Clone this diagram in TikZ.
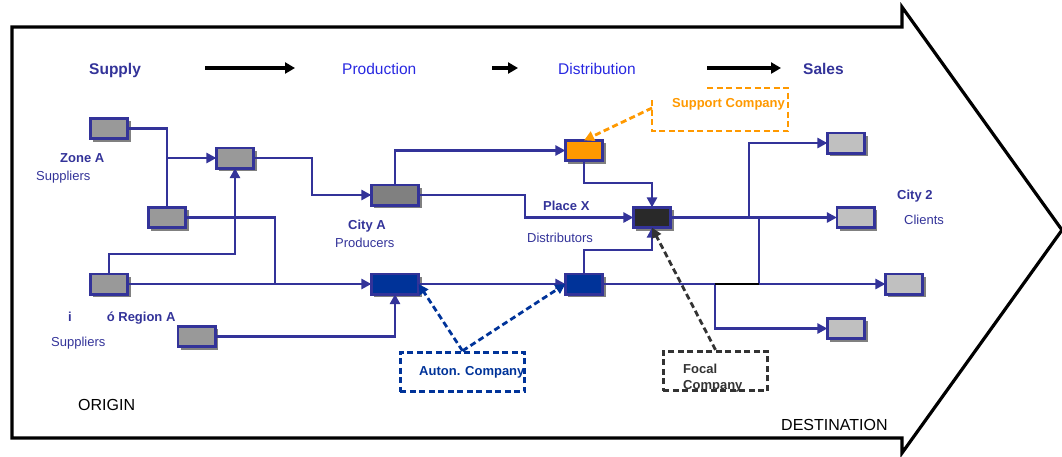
\documentclass[tikz,border=0pt]{standalone}
\usepackage{fontspec}
\setmainfont{Liberation Sans}
\usetikzlibrary{arrows.meta,shadows}

\definecolor{navy}{RGB}{51,51,153}
\definecolor{hdrblue}{RGB}{40,40,225}
\definecolor{boxgray}{RGB}{153,153,153}
\definecolor{prodgray}{RGB}{128,128,128}
\definecolor{clientgray}{RGB}{192,192,192}
\definecolor{deepblue}{RGB}{0,51,153}
\definecolor{supporange}{RGB}{255,153,0}
\definecolor{focalfill}{RGB}{41,41,41}
\definecolor{focaldash}{RGB}{51,51,51}
\definecolor{shadowgray}{RGB}{128,128,128}

\begin{document}
\begin{tikzpicture}[x=1pt,y=-1pt,
  unit/.style={draw=navy, line width=2.8pt, inner sep=0pt, outer sep=0pt,
    minimum width=37.2pt, minimum height=20.2pt,
    drop shadow={shadow xshift=3pt, shadow yshift=-3pt, fill=shadowgray, opacity=1}},
  wideunit/.style={unit, minimum width=47.2pt},
  conn/.style={draw=navy, line width=2.8pt, -{Triangle[length=10pt,width=10pt]}},
  link/.style={draw=navy, line width=2.8pt},
  harrow/.style={draw=black, line width=3.2pt, -{Triangle[length=10pt,width=11pt]}},
  dashline/.style={line width=2.8pt, dash pattern=on 6pt off 3.5pt},
  dtip/.style={-{Triangle[length=10pt,width=10pt]}},
  lbl/.style={anchor=base west, inner sep=0pt, text=navy, font=\fontsize{13}{16}\selectfont},
  lblb/.style={lbl, font=\fontsize{13}{16}\selectfont\bfseries},
  hdr/.style={anchor=base west, inner sep=0pt, font=\fontsize{15.5}{18}\selectfont},
  plain/.style={anchor=base west, inner sep=0pt, text=black, font=\fontsize{16}{18}\selectfont}
]
\useasboundingbox (0,0) rectangle (1062,456);

% outline arrow: origin to destination
\draw[line width=3.2pt, line join=miter] (12,27) -- (902,27) -- (902,7) -- (1062,230)
  -- (902,453) -- (902,438) -- (12,438) -- cycle;

% stage headings
\node[hdr, text=navy, font=\fontsize{15.5}{18}\selectfont\bfseries] (hsup) at (89,74) {Supply};
\node[hdr, text=hdrblue] (hprod) at (342,74) {Production};
\node[hdr, text=hdrblue] (hdist) at (558,74) {Distribution};
\node[hdr, text=navy, font=\fontsize{15.5}{18}\selectfont\bfseries] (hsal) at (803,74) {Sales};
\coordinate (a1s) at (205,68); \coordinate (a1e) at (295,68);
\coordinate (a2s) at (492,68); \coordinate (a2e) at (518,68);
\coordinate (a3s) at (707,68); \coordinate (a3e) at (781,68);
\draw[harrow] (a1s) -- (a1e);
\draw[harrow] (a2s) -- (a2e);
\draw[harrow] (a3s) -- (a3e);

% suppliers
\node[unit, fill=boxgray] (b1) at (109,128.5) {};
\node[unit, fill=boxgray] (b2) at (167,217.5) {};
\node[unit, fill=boxgray] (b3) at (235,158) {};
\node[unit, fill=boxgray] (b4) at (109,284) {};
\node[unit, fill=boxgray] (b5) at (196.5,336.5) {};
% producers
\node[wideunit, fill=prodgray] (b6) at (395,195) {};
\node[wideunit, fill=deepblue] (b7) at (395,284) {};
% distributors
\node[unit, fill=supporange] (b8) at (584,150.5) {};
\node[unit, fill=focalfill] (b9) at (652,217.5) {};
\node[unit, fill=deepblue] (b10) at (584,284) {};
% clients
\node[unit, fill=clientgray] (c1) at (846,143) {};
\node[unit, fill=clientgray] (c2) at (855.5,217.5) {};
\node[unit, fill=clientgray] (c3) at (904,284) {};
\node[unit, fill=clientgray] (c4) at (846,328.5) {};

% flows
\draw[conn] (b1.east) -| (167,158) -- (b3.west);
\draw[link] (b2.north) -- (b2.north |- b3.west);
\draw[link] (b2.east) -| (275,284);
\draw[conn] (b4.east) -- (b7.west);
\draw[conn] (b4.north) |- (235,254) -- (b3.south);
\draw[conn] (b5.east) -| (b7.south);
\draw[conn] (b3.east) -| (312,195) -- (b6.west);
\draw[conn] (b6.north) |- (b8.west);
\draw[conn] (b6.east) -| (525,217.5) -- (b9.west);
\draw[conn] (b8.south) |- (652,183) -- (b9.north);
\draw[conn] (b7.east) -- (b10.west);
\draw[conn] (b10.north) |- (652,250) -- (b9.south);

\coordinate (j1) at (749,217.5);
\coordinate (j2) at (759,217.5);
\coordinate (j3) at (715,284);
\draw[conn] (b9.east) -- (c2.west);
\draw[conn] (j1) |- (c1.west);
\draw[conn] (j2) |- (c3.west);
\draw[link] (b10.east) -- (j3);
\draw[conn] (j3) |- (c4.west);
\draw[line width=2.8pt, black] (j3) -- (j2 |- j3);

% support company
\node[inner sep=0pt, outer sep=0pt, minimum width=136pt, minimum height=43pt] (supbox) at (720,109.5) {};
\draw[supporange, dashline] ([xshift=55pt]supbox.north west) -- (supbox.north east)
  -- (supbox.south east) -- (supbox.south west) -- ([yshift=-10pt]supbox.north west);
\node[lblb, text=supporange] (suptxt) at (672,107) {Support Company};
\coordinate (supfrom) at ([yshift=-20pt]supbox.north west);
\draw[supporange, dashline, dtip] (supfrom) -- (b8.north);

% autonomous company
\node[draw=deepblue, dashline, inner sep=0pt, minimum width=124.5pt, minimum height=39.5pt] (aut) at (462.5,372) {};
\node[lblb, text=deepblue] (auttxt) at (419,375) {Auton. Company};
\draw[deepblue, dashline, dtip] (aut.north) -- (b7.east);
\draw[deepblue, dashline, dtip] (aut.north) -- (b10.west);

% focal company
\node[draw=focaldash, dashline, inner sep=0pt, minimum width=104.5pt, minimum height=39.5pt] (foc) at (715.5,371) {};
\node[lblb, text=focaldash, anchor=west, align=left] (foctxt) at (683,378.6) {Focal\\Company};
\draw[focaldash, dashline, dtip] (foc.north) -- (b9.south);

% labels
\node[lblb] (zonea) at (60,162) {Zone A};
\node[lbl] (zsup) at (36,180) {Suppliers};
\node[lblb] (rega) at (68,321) {i\hspace{35pt}ó Region A};
\node[lbl] (rsup) at (51,346) {Suppliers};
\node[lblb] (citya) at (348,229) {City A};
\node[lbl] (prods) at (335,247) {Producers};
\node[lblb] (placex) at (543,210) {Place X};
\node[lbl] (dists) at (527,242) {Distributors};
\node[lblb] (city2) at (897,199) {City 2};
\node[lbl] (clients) at (904,224) {Clients};
\node[plain] (orig) at (78,410) {ORIGIN};
\node[plain] (dest) at (781,430) {DESTINATION};
\end{tikzpicture}
\end{document}
